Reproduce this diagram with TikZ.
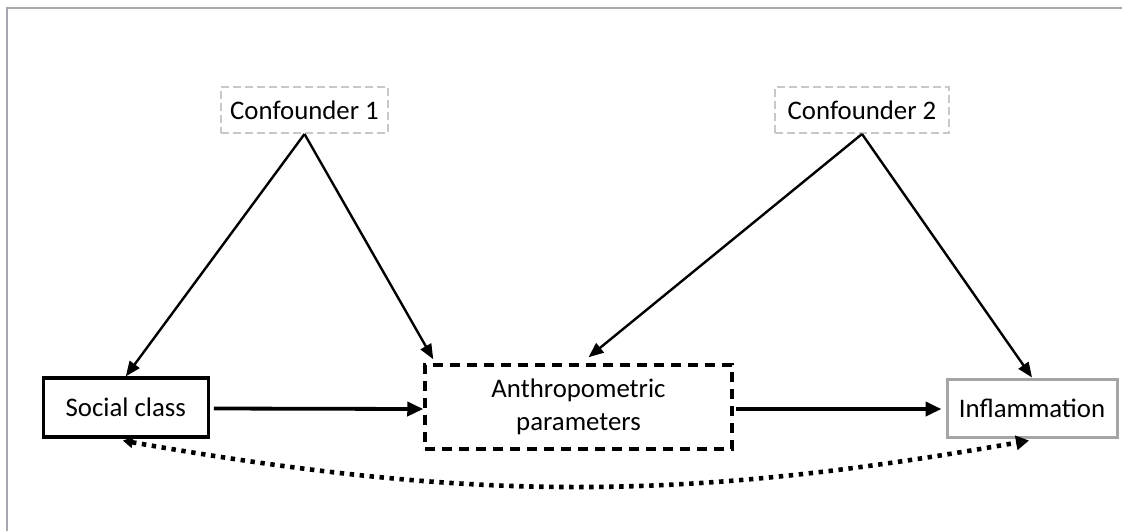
\documentclass[tikz,border=0pt]{standalone}
\usepackage{fontspec}
\setmainfont{Carlito}
\usepackage{xcolor}
\usepackage{tikz}
\usetikzlibrary{arrows.meta}
\usetikzlibrary{calc}
\definecolor{framegray}{RGB}{166,170,176}
\definecolor{confgray}{RGB}{200,200,200}
\definecolor{outgray}{RGB}{165,165,165}

\tikzset{
    box/.style={draw, rectangle, inner sep=0pt, align=center,
        font=\fontsize{13.4}{16.3}\selectfont},
    confbox/.style={box, draw=confgray, line width=1pt, dash pattern=on 4pt off 2pt},
    thinarrow/.style={line width=1.2pt, -{Triangle[length=7.5pt,width=6pt]}},
    thickarrow/.style={line width=1.9pt, -{Triangle[length=8pt,width=7pt]}},
}

\begin{document}
\begin{tikzpicture}[x=0.5pt, y=-0.5pt]
    \useasboundingbox (0,0) rectangle (1122,531);

    % Cadre gris
    \draw[framegray, line width=0.8pt] (7,531) -- (7,8) -- (1122,8);

    % Facteurs de confusion
    \node[confbox, minimum width=83.5pt, minimum height=23pt] (conf1) at (304.5,110) {Confounder 1};
    \node[confbox, minimum width=87pt, minimum height=23pt] (conf2) at (862,110) {Confounder 2};

    % Chaine principale
    \node[box, line width=1.6pt, minimum width=82.5pt, minimum height=29.5pt] (social) at (125.8,407.5) {Social class};
    \node[box, line width=1.75pt, dash pattern=on 5pt off 3.5pt, minimum width=153.5pt, minimum height=42pt] (anthro) at (578.5,407) {Anthropometric\\parameters};
    \node[box, draw=outgray, line width=1.5pt, minimum width=85pt, minimum height=29pt] (inflam) at (1032,408) {Inflammation};

    % Fleches des confondants
    \draw[thinarrow] (conf1.south) -- (social.north);
    \draw[thinarrow] (conf1.south) -- ($(anthro.north west)+(10,-4)$);
    \draw[thinarrow] (conf2.south) -- ($(anthro.north)+(10,-6)$);
    \draw[thinarrow] (conf2.south) -- (inflam.north);

    % Fleches principales
    \draw[thickarrow] ($(social.east)+(4,1)$) -- (anthro.west |- 0,409);
    \draw[thickarrow] ($(anthro.east)+(2,2)$) -- ($(inflam.west)+(-4,1)$);

    % Lien direct
    \draw[line width=2.3pt, dash pattern=on 2.2pt off 2.8pt,
        {Triangle[length=5pt,width=5.5pt]}-{Triangle[length=6.5pt,width=7pt]}]
        ($(social.south)+(-3,2)$) to[out=-10, in=-170] ($(inflam.south)+(-3,2)$);
\end{tikzpicture}
\end{document}
